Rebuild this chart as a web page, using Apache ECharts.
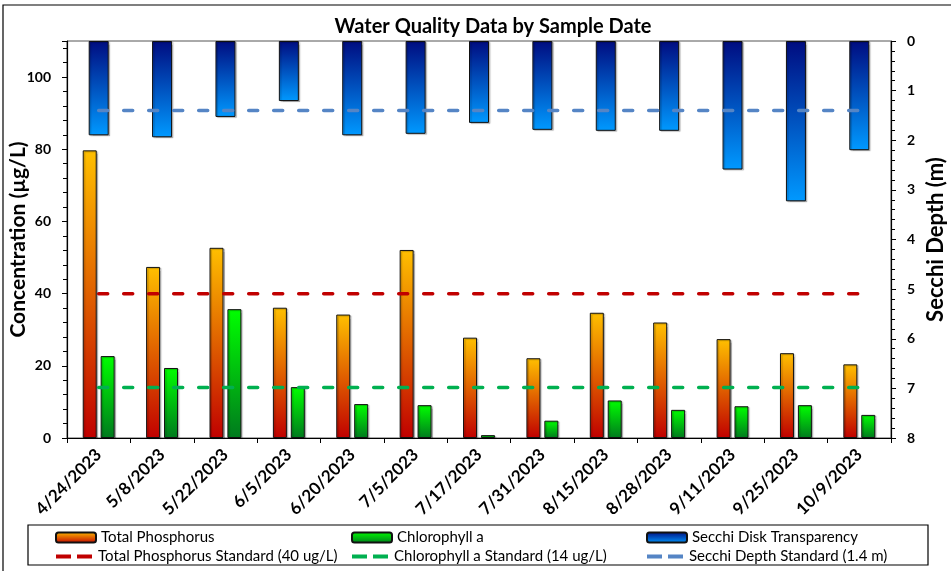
<!DOCTYPE html>
<html>
<head>
<meta charset="utf-8">
<script src="https://cdn.jsdelivr.net/npm/echarts@6/dist/echarts.min.js"></script>
<style>
  html, body { margin: 0; padding: 0; background: #fff; }
  #main { width: 951px; height: 571px; }
</style>
</head>
<body>
<div id="main"></div>
<script>
var dates = ['4/24/2023', '5/8/2023', '5/22/2023', '6/5/2023', '6/20/2023', '7/5/2023', '7/17/2023',
  '7/31/2023', '8/15/2023', '8/28/2023', '9/11/2023', '9/25/2023', '10/9/2023'];
var phosphorus = [79.7, 47.4, 52.7, 36.1, 34.2, 52.1, 27.8, 22.1, 34.7, 32.0, 27.4, 23.5, 20.4];
var chlorophyll = [22.7, 19.4, 35.7, 14.1, 9.4, 9.1, 0.8, 4.8, 10.4, 7.8, 8.8, 9.1, 6.4];
var secchi = [1.9, 1.94, 1.53, 1.21, 1.9, 1.87, 1.65, 1.79, 1.81, 1.81, 2.59, 3.23, 2.2];
var tpStandard = 40;
var chlStandard = 14;
var secchiStandard = 1.4;

var font = 'Lato';

function grad(top, bottom) {
  return new echarts.graphic.LinearGradient(0, 0, 0, 1, [
    { offset: 0, color: top },
    { offset: 1, color: bottom }
  ]);
}
function flat(v) {
  return dates.map(function() { return v; });
}

// one legend per slot so the 3x2 layout matches the reference
var dashIcon = 'path://M0,0h15v4h-15z M21,0h15v4h-15z';
function legendItem(name, left, top, isLine) {
  return {
    left: left, top: top, padding: 0,
    itemWidth: isLine ? 38 : 40, itemHeight: isLine ? 4 : 10, itemGap: 6,
    textStyle: { fontFamily: font, fontSize: 15, color: '#000' },
    data: [isLine ? { name: name, icon: dashIcon } : { name: name }]
  };
}

var chart = echarts.init(document.getElementById('main'));
var barShadow = { shadowColor: 'rgba(0,0,0,0.22)', shadowOffsetX: 1.5, shadowOffsetY: 1, shadowBlur: 1 };

var option = {
  animation: false,
  textStyle: { fontFamily: font },
  title: {
    text: 'Water Quality Data by Sample Date',
    left: 488, top: 12, textAlign: 'center',
    textStyle: { fontFamily: font, fontSize: 20, fontWeight: 'bold', color: '#000' }
  },
  graphic: [
    { type: 'rect', shape: { x: 3, y: 5, width: 1000, height: 600 }, style: { fill: 'none', stroke: '#000', lineWidth: 1.2 }, silent: true },
    { type: 'rect', shape: { x: 28, y: 525, width: 900, height: 40 }, style: { fill: 'none', stroke: '#000', lineWidth: 1.2 }, silent: true }
  ],
  grid: {
    left: 67, right: 60, top: 41, bottom: 133, outerBoundsMode: 'none',
    show: true, borderColor: '#555', borderWidth: 1
  },
  legend: [
    legendItem('Total Phosphorus', 55, 530, false),
    legendItem('Chlorophyll a', 351, 530, false),
    legendItem('Secchi Disk Transparency', 646, 530, false),
    legendItem('Total Phosphorus Standard (40 ug/L)', 56, 549, true),
    legendItem('Chlorophyll a Standard (14 ug/L)', 352, 549, true),
    legendItem('Secchi Depth Standard (1.4 m)', 647, 549, true)
  ],
  xAxis: [
    {
      type: 'category', data: dates, boundaryGap: true,
      axisLine: { lineStyle: { color: '#000', width: 1.2 } },
      axisTick: { show: true, length: 5, lineStyle: { color: '#000' } },
      axisLabel: { rotate: 45, interval: 0, fontSize: 17, fontWeight: 'bold', color: '#000', margin: 14, fontFamily: font }
    },
    { type: 'category', data: dates, show: false }
  ],
  yAxis: [
    {
      type: 'value', min: 0, max: 110, interval: 20,
      name: 'Concentration (µg/L)', nameLocation: 'middle', nameGap: 38, nameMoveOverlap: false,
      nameTextStyle: { fontFamily: font, fontSize: 21, fontWeight: 'bold', color: '#000' },
      axisLine: { show: true, lineStyle: { color: '#000', width: 1.2 } },
      axisTick: { show: true, length: 5, lineStyle: { color: '#000' } },
      minorTick: { show: true, splitNumber: 5, length: 4, lineStyle: { color: '#000' } },
      splitLine: { show: false },
      axisLabel: { showMaxLabel: false, fontSize: 14, fontWeight: 'bold', color: '#000', margin: 16, fontFamily: font }
    },
    {
      type: 'value', min: 0, max: 8, interval: 1, inverse: true, position: 'right',
      name: 'Secchi Depth (m)', nameLocation: 'middle', nameGap: 34, nameRotate: 90, nameMoveOverlap: false,
      nameTextStyle: { fontFamily: font, fontSize: 22, fontWeight: 'bold', color: '#000' },
      axisLine: { show: true, lineStyle: { color: '#000', width: 1.2 } },
      axisTick: { show: true, length: 5, lineStyle: { color: '#000' } },
      minorTick: { show: true, splitNumber: 5, length: 4, lineStyle: { color: '#000' } },
      splitLine: { show: false },
      axisLabel: { fontSize: 14, fontWeight: 'bold', color: '#000', margin: 16, fontFamily: font }
    }
  ],
  series: [
    {
      name: 'Secchi Disk Transparency', type: 'bar', xAxisIndex: 1, yAxisIndex: 1,
      data: secchi, barWidth: 20,
      itemStyle: Object.assign({ color: grad('#000C80', '#0099FF'), borderColor: '#111', borderWidth: 1 }, barShadow)
    },
    {
      name: 'Total Phosphorus', type: 'bar', xAxisIndex: 0, yAxisIndex: 0,
      data: phosphorus, barWidth: 14, barGap: '28%',
      itemStyle: Object.assign({ color: grad('#FFC000', '#C00000'), borderColor: '#111', borderWidth: 1 }, barShadow)
    },
    {
      name: 'Chlorophyll a', type: 'bar', xAxisIndex: 0, yAxisIndex: 0,
      data: chlorophyll, barWidth: 14, barGap: '28%',
      itemStyle: Object.assign({ color: grad('#00FF00', '#007A1E'), borderColor: '#111', borderWidth: 1 }, barShadow)
    },
    {
      name: 'Total Phosphorus Standard (40 ug/L)', type: 'line', xAxisIndex: 0, yAxisIndex: 0,
      data: flat(tpStandard), symbol: 'none', z: 5,
      itemStyle: { color: '#C00000' },
      lineStyle: { color: '#C00000', width: 3.5, type: [9, 16], cap: 'round' }
    },
    {
      name: 'Chlorophyll a Standard (14 ug/L)', type: 'line', xAxisIndex: 0, yAxisIndex: 0,
      data: flat(chlStandard), symbol: 'none', z: 5,
      itemStyle: { color: '#00B050' },
      lineStyle: { color: '#00B050', width: 3.5, type: [9, 16], cap: 'round' }
    },
    {
      name: 'Secchi Depth Standard (1.4 m)', type: 'line', xAxisIndex: 0, yAxisIndex: 1,
      data: flat(secchiStandard), symbol: 'none', z: 5,
      itemStyle: { color: '#5585C5' },
      lineStyle: { color: '#5585C5', width: 3.5, type: [9, 16], cap: 'round' }
    }
  ]
};
chart.setOption(option);
</script>
</body>
</html>
